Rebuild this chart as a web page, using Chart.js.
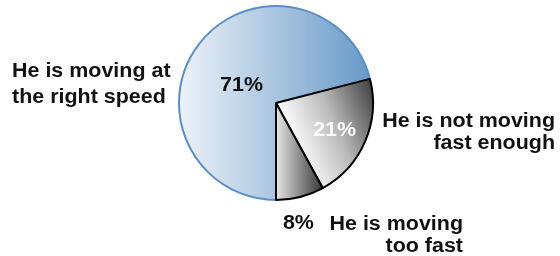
<!DOCTYPE html>
<html>
<head>
<meta charset="utf-8">
<script src="https://cdn.jsdelivr.net/npm/chart.js@4/dist/chart.umd.min.js"></script>
<style>
  html, body { margin: 0; padding: 0; background: #fff; }
  #wrap { width: 560px; height: 256px; }
</style>
</head>
<body>
<div id="wrap"><canvas id="pieChart" width="560" height="256"></canvas></div>
<script>
// answers to "how fast is he moving"
const categories = ['He is moving at the right speed', 'He is not moving fast enough', 'He is moving too fast'];
const shares = [71, 21, 8];
const pctLabels = ['71%', '21%', '8%'];

const FONT = 'bold 19.5px "Liberation Sans", Arial, sans-serif';
const STRETCH = 1.1; // reference lettering is a bit wider than Arial

function sliceFill(context) {
    const chart = context.chart;
    const area = chart.chartArea;
    if (!area) return '#ccc';
    const ctx = chart.ctx;
    const i = context.dataIndex;
    let g;
    if (i === 0) {
        g = ctx.createLinearGradient(area.left, 0, area.right, 0);
        g.addColorStop(0, '#eef3f9');
        g.addColorStop(1, '#6597c7');
    } else if (i === 1) {
        const cx = (area.left + area.right) / 2;
        g = ctx.createLinearGradient(cx, area.top + 100, area.right, area.top + 60);
        g.addColorStop(0, '#ffffff');
        g.addColorStop(0.45, '#b8b8b8');
        g.addColorStop(1, '#2a2a2a');
    } else {
        const cx = (area.left + area.right) / 2;
        g = ctx.createLinearGradient(cx, 0, cx + 48, 0);
        g.addColorStop(0, '#e6e6e6');
        g.addColorStop(1, '#303030');
    }
    return g;
}

function drawText(ctx, txt, x, y, align) {
    ctx.save();
    ctx.translate(x, y);
    ctx.scale(STRETCH, 1);
    ctx.textAlign = align;
    ctx.fillText(txt, 0, 0);
    ctx.restore();
}

// text labels, placed from the arcs
const labelPlugin = {
    id: 'pieLabels',
    afterDatasetsDraw(chart) {
        const ctx = chart.ctx;
        const arcs = chart.getDatasetMeta(0).data;
        const inside = [
            { f: 0.45, color: '#111', dx: 0, dy: 8 },
            { f: 0.67, color: '#fff', dx: -1, dy: 0 },
            { f: 1.22, color: '#111', dx: -7, dy: 4 }
        ];
        ctx.save();
        ctx.font = FONT;
        ctx.textBaseline = 'alphabetic';
        arcs.forEach(function (arc, i) {
            const p = arc.getProps(['x', 'y', 'startAngle', 'endAngle', 'outerRadius']);
            const mid = (p.startAngle + p.endAngle) / 2;
            const r = p.outerRadius * inside[i].f;
            ctx.fillStyle = inside[i].color;
            drawText(ctx, pctLabels[i], p.x + Math.cos(mid) * r + inside[i].dx,
                p.y + Math.sin(mid) * r + 7 + inside[i].dy, 'center');
        });
        ctx.fillStyle = '#111';
        drawText(ctx, 'He is moving at', 12, 77, 'left');
        drawText(ctx, 'the right speed', 12, 103, 'left');
        drawText(ctx, 'He is not moving', 555, 127, 'right');
        drawText(ctx, 'fast enough', 555, 149, 'right');
        drawText(ctx, 'He is moving', 463, 230, 'right');
        drawText(ctx, 'too fast', 463, 252, 'right');
        ctx.restore();
    }
};

const ctx = document.getElementById('pieChart').getContext('2d');
const pieChart = new Chart(ctx, {
    type: 'pie',
    data: {
        labels: categories,
        datasets: [{
            data: shares,
            backgroundColor: sliceFill,
            borderColor: ['#5b8ec6', '#000000', '#000000'],
            borderWidth: 2
        }]
    },
    options: {
        responsive: false,
        animation: false,
        rotation: 180,
        layout: { padding: { left: 178, right: 186, top: 4, bottom: 54 } },
        plugins: {
            legend: { display: false },
            tooltip: { enabled: false }
        }
    },
    plugins: [labelPlugin]
});
</script>
</body>
</html>
